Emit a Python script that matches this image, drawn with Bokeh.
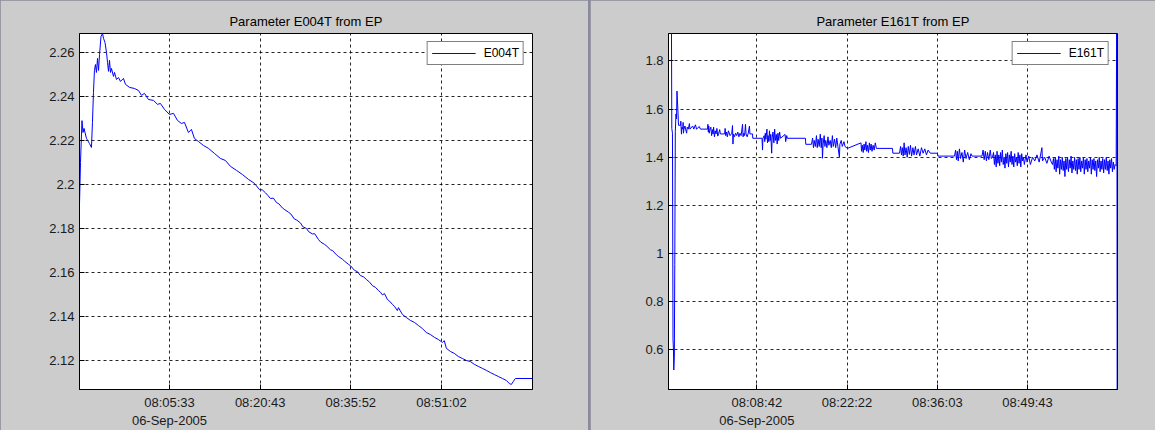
import pandas as pd
from bokeh.plotting import figure
from bokeh.models import Range1d, FixedTicker
from bokeh.layouts import row
from bokeh.embed import file_html
from bokeh.resources import INLINE

DATE = "2005-09-06"

# ---------------- E004T ----------------
E004T_START = "07:50:30"
E004T_XLIM = ("07:50:30", "09:06:15")
e004t_ylim = (2.1068, 2.2686)
e004t_xticks = ["08:05:33", "08:20:43", "08:35:52", "08:51:02"]
e004t_yticks = [2.12, 2.14, 2.16, 2.18, 2.2, 2.22, 2.24, 2.26]
e004t_ytick_labels = ["2.12", "2.14", "2.16", "2.18", "2.2", "2.22", "2.24", "2.26"]

e004t_elapsed_s = [
    0, 10, 25, 35, 45, 70, 100, 120, 130, 140,
    150, 160, 170, 181, 191, 201, 216, 231, 241, 256,
    271, 281, 291, 301, 311, 321, 341, 351, 371, 391,
    411, 441, 461, 502, 552, 592, 622, 652, 692, 742,
    782, 812, 853, 903, 943, 983, 1023, 1053, 1093, 1123,
    1153, 1194, 1244, 1294, 1354, 1414, 1464, 1515, 1575, 1635,
    1695, 1755, 1805, 1835, 1866, 1890, 1916, 1945, 1976, 2000,
    2036, 2060, 2096, 2120, 2156, 2180, 2217, 2240, 2277, 2300,
    2337, 2360, 2397, 2420, 2457, 2480, 2518, 2540, 2578, 2600,
    2638, 2660, 2698, 2720, 2758, 2790, 2818, 2850, 2879, 2910,
    2939, 2970, 2999, 3020, 3039, 3060, 3089, 3110, 3139, 3160,
    3189, 3200, 3240, 3280, 3320, 3360, 3400, 3440, 3480, 3520,
    3561, 3601, 3641, 3660, 3681, 3721, 3761, 3801, 3841, 3882,
    3922, 3962, 4002, 4042, 4082, 4122, 4162, 4203, 4243, 4283,
    4313, 4333, 4353, 4373, 4544,
]
e004t_values = [
    2.1909, 2.2100, 2.2290, 2.2236, 2.2255, 2.2209, 2.2186, 2.2168, 2.2282, 2.2418,
    2.2518, 2.2545, 2.2509, 2.2573, 2.2518, 2.2591, 2.2673, 2.2686, 2.2664, 2.2645,
    2.2600, 2.2555, 2.2514, 2.2564, 2.2509, 2.2527, 2.2491, 2.2509, 2.2477, 2.2486,
    2.2468, 2.2482, 2.2455, 2.2441, 2.2436, 2.2427, 2.2405, 2.2414, 2.2386, 2.2382,
    2.2364, 2.2368, 2.2341, 2.2318, 2.2323, 2.2291, 2.2277, 2.2282, 2.2236, 2.2250,
    2.2209, 2.2195, 2.2177, 2.2164, 2.2141, 2.2118, 2.2109, 2.2082, 2.2064, 2.2045,
    2.2023, 2.2005, 2.1977, 2.1975, 2.1962, 2.1950, 2.1936, 2.1938, 2.1918, 2.1912,
    2.1893, 2.1885, 2.1874, 2.1866, 2.1843, 2.1838, 2.1825, 2.1808, 2.1800, 2.1785,
    2.1775, 2.1776, 2.1750, 2.1738, 2.1728, 2.1720, 2.1703, 2.1699, 2.1680, 2.1672,
    2.1660, 2.1651, 2.1637, 2.1630, 2.1610, 2.1603, 2.1586, 2.1580, 2.1568, 2.1556,
    2.1540, 2.1532, 2.1518, 2.1510, 2.1498, 2.1504, 2.1477, 2.1470, 2.1455, 2.1446,
    2.1427, 2.1440, 2.1409, 2.1395, 2.1382, 2.1373, 2.1359, 2.1345, 2.1327, 2.1318,
    2.1305, 2.1295, 2.1282, 2.1290, 2.1255, 2.1241, 2.1232, 2.1218, 2.1209, 2.1200,
    2.1195, 2.1182, 2.1173, 2.1164, 2.1155, 2.1145, 2.1136, 2.1127, 2.1118, 2.1109,
    2.1095, 2.1091, 2.1105, 2.1118, 2.1118,
]

# ---------------- E161T ----------------
E161T_START = "07:55:19"
E161T_XLIM = ("07:55:19", "09:03:21")
e161t_ylim = (0.436, 1.914)
e161t_xticks = ["08:08:42", "08:22:22", "08:36:03", "08:49:43"]
e161t_yticks = [0.6, 0.8, 1.0, 1.2, 1.4, 1.6, 1.8]
e161t_ytick_labels = ["0.6", "0.8", "1", "1.2", "1.4", "1.6", "1.8"]

e161t_elapsed_s = [
    25, 30, 36, 41, 45, 48, 53, 57, 62, 68,
    73, 77, 85, 91, 110, 112, 115, 118, 121, 130,
    133, 136, 140, 150, 155, 165, 170, 180, 190, 195,
    220, 230, 245, 255, 280, 290, 355, 358, 362, 366,
    370, 378, 385, 392, 400, 405, 410, 418, 425, 432,
    440, 448, 455, 465, 472, 510, 515, 520, 528, 535,
    545, 560, 575, 582, 586, 590, 600, 610, 620, 630,
    640, 650, 660, 673, 678, 685, 692, 700, 705, 715,
    725, 736, 740, 764, 766, 850, 855, 858, 870, 875,
    880, 885, 895, 900, 905, 912, 918, 925, 930, 938,
    942, 950, 958, 965, 972, 980, 988, 995, 1002, 1010,
    1018, 1060, 1065, 1075, 1080, 1245, 1248, 1300, 1310, 1318,
    1325, 1335, 1345, 1352, 1360, 1370, 1380, 1388, 1395, 1400,
    1405, 1415, 1422, 1430, 1440, 1450, 1458, 1470, 1480, 1490,
    1498, 1510, 1520, 1530, 1540, 1554, 1558, 1570, 1580, 1595,
    1605, 1627, 1750, 1755, 1762, 1770, 1778, 1785, 1795, 1802,
    1810, 1818, 1826, 1834, 1842, 1850, 1860, 1870, 1880, 1890,
    2036, 2040, 2100, 2110, 2118, 2126, 2134, 2142, 2150, 2160,
    2170, 2180, 2190, 2200, 2210, 2222, 2232, 2245, 2255, 2270,
    2285, 2300, 2315, 2330, 2345, 2360, 2380, 2445, 2450, 2600,
    2610, 2618, 2626, 2634, 2645, 2655, 2668, 2680, 2692, 2705,
    2720, 2735, 2750, 2760, 2850, 2860, 2870, 2880, 2890, 2900,
    2912, 2925, 2935, 2945, 2955, 2963, 2971, 2979, 2987, 2995,
    3003, 3011, 3019, 3027, 3035, 3043, 3051, 3059, 3067, 3075,
    3083, 3091, 3099, 3107, 3115, 3123, 3131, 3139, 3147, 3155,
    3163, 3171, 3179, 3187, 3195, 3203, 3211, 3219, 3227, 3235,
    3250, 3260, 3275, 3290, 3310, 3330, 3350, 3370, 3395, 3400,
    3420, 3440, 3460, 3480, 3491, 3500, 3508, 3516, 3524, 3532,
    3540, 3548, 3556, 3564, 3572, 3580, 3588, 3596, 3604, 3612,
    3620, 3628, 3636, 3644, 3652, 3660, 3668, 3676, 3684, 3692,
    3700, 3708, 3716, 3724, 3732, 3740, 3748, 3756, 3764, 3772,
    3780, 3788, 3796, 3804, 3812, 3820, 3828, 3836, 3844, 3852,
    3860, 3868, 3876, 3884, 3892, 3900, 3908, 3916, 3924, 3932,
    3940, 3948, 3956, 3964, 3972, 3980, 3988, 3996, 4004, 4012,
    4020, 4028, 4036, 4044, 4052, 4060, 4070, 4076, 4079,
]
e161t_values = [
    2.200, 1.520, 1.500, 0.645, 0.600, 0.517, 0.570, 0.954, 1.508, 1.580,
    1.560, 1.675, 1.600, 1.533, 1.533, 1.550, 1.520, 1.496, 1.525, 1.517,
    1.545, 1.500, 1.517, 1.530, 1.517, 1.500, 1.525, 1.517, 1.540, 1.517,
    1.530, 1.517, 1.535, 1.517, 1.528, 1.517, 1.517, 1.537, 1.505, 1.530,
    1.500, 1.517, 1.525, 1.490, 1.515, 1.497, 1.525, 1.485, 1.510, 1.497,
    1.520, 1.488, 1.497, 1.515, 1.497, 1.497, 1.520, 1.490, 1.505, 1.485,
    1.510, 1.490, 1.500, 1.532, 1.455, 1.497, 1.485, 1.500, 1.490, 1.505,
    1.485, 1.500, 1.490, 1.537, 1.485, 1.500, 1.490, 1.537, 1.497, 1.485,
    1.500, 1.530, 1.497, 1.497, 1.479, 1.479, 1.430, 1.479, 1.490, 1.465,
    1.500, 1.475, 1.517, 1.460, 1.490, 1.465, 1.510, 1.470, 1.495, 1.417,
    1.480, 1.505, 1.460, 1.517, 1.470, 1.495, 1.455, 1.500, 1.470, 1.505,
    1.479, 1.495, 1.465, 1.490, 1.479, 1.479, 1.454, 1.454, 1.480, 1.440,
    1.470, 1.445, 1.490, 1.440, 1.475, 1.445, 1.496, 1.440, 1.480, 1.396,
    1.450, 1.490, 1.445, 1.470, 1.440, 1.485, 1.450, 1.470, 1.440, 1.490,
    1.445, 1.475, 1.440, 1.480, 1.445, 1.400, 1.454, 1.470, 1.445, 1.465,
    1.445, 1.437, 1.460, 1.425, 1.450, 1.420, 1.455, 1.430, 1.465, 1.425,
    1.450, 1.420, 1.460, 1.430, 1.455, 1.425, 1.450, 1.430, 1.460, 1.437,
    1.437, 1.417, 1.417, 1.445, 1.410, 1.440, 1.405, 1.460, 1.410, 1.440,
    1.400, 1.445, 1.412, 1.450, 1.405, 1.440, 1.410, 1.445, 1.410, 1.435,
    1.405, 1.440, 1.417, 1.435, 1.410, 1.430, 1.417, 1.417, 1.405, 1.405,
    1.430, 1.390, 1.425, 1.385, 1.435, 1.395, 1.420, 1.380, 1.430, 1.395,
    1.420, 1.390, 1.415, 1.405, 1.405, 1.430, 1.390, 1.425, 1.385, 1.420,
    1.390, 1.430, 1.395, 1.400, 1.420, 1.370, 1.410, 1.360, 1.425, 1.375,
    1.410, 1.365, 1.420, 1.380, 1.430, 1.370, 1.400, 1.355, 1.415, 1.375,
    1.420, 1.360, 1.410, 1.380, 1.425, 1.370, 1.405, 1.360, 1.415, 1.380,
    1.400, 1.365, 1.420, 1.375, 1.410, 1.360, 1.415, 1.385, 1.400, 1.370,
    1.410, 1.380, 1.405, 1.370, 1.400, 1.385, 1.410, 1.380, 1.440, 1.385,
    1.400, 1.375, 1.405, 1.380, 1.370, 1.395, 1.350, 1.400, 1.340, 1.390,
    1.355, 1.405, 1.330, 1.390, 1.350, 1.400, 1.345, 1.385, 1.320, 1.395,
    1.350, 1.400, 1.340, 1.390, 1.355, 1.405, 1.335, 1.385, 1.350, 1.400,
    1.345, 1.390, 1.330, 1.395, 1.350, 1.400, 1.340, 1.385, 1.355, 1.400,
    1.330, 1.390, 1.350, 1.395, 1.340, 1.385, 1.355, 1.400, 1.330, 1.390,
    1.350, 1.395, 1.345, 1.385, 1.320, 1.390, 1.355, 1.400, 1.340, 1.385,
    1.350, 1.395, 1.335, 1.390, 1.350, 1.400, 1.345, 1.385, 1.330, 1.390,
    1.355, 1.395, 1.340, 1.380, 1.350, 1.370, 1.365, 2.200, 0.300,
]

FONT = "Liberation Sans"
PANEL_BG = "#cccccc"


def ms(clock):
    return pd.Timestamp(f"{DATE} {clock}").value // 10**6


def make_panel(name, start, elapsed, values, xlim, xticks, yticks, ylabels, ylim,
               width, border_left, border_right):
    t0 = pd.Timestamp(f"{DATE} {start}")
    x = t0 + pd.to_timedelta(elapsed, unit="s")
    p = figure(width=width, height=430, x_axis_type="datetime",
               x_range=Range1d(ms(xlim[0]), ms(xlim[1])),
               y_range=Range1d(*ylim),
               output_backend="svg", toolbar_location=None,
               title=f"Parameter {name} from EP",
               min_border_left=border_left, min_border_right=border_right,
               min_border_top=33, min_border_bottom=40)
    p.background_fill_color = "white"
    p.border_fill_color = PANEL_BG
    p.outline_line_color = "black"
    p.outline_line_width = 1

    p.title.align = "center"
    p.title.text_font = FONT
    p.title.text_font_size = "13px"
    p.title.text_font_style = "normal"
    p.title.text_color = "#000000"
    p.title.standoff = 10

    xt = [ms(c) for c in xticks]
    date_str = pd.Timestamp(DATE).strftime("%d-%b-%Y")
    xover = {}
    for i, (v, c) in enumerate(zip(xt, xticks)):
        xover[v] = c + ("\n" + date_str if i == 0 else "")
    p.xaxis.ticker = FixedTicker(ticks=xt)
    p.xaxis.major_label_overrides = xover
    p.yaxis.ticker = FixedTicker(ticks=yticks)
    p.yaxis.major_label_overrides = {v: s for v, s in zip(yticks, ylabels)}

    for ax in list(p.xaxis) + list(p.yaxis):
        ax.major_tick_in = 5
        ax.major_tick_out = 0
        ax.minor_tick_in = 0
        ax.minor_tick_out = 0
        ax.axis_line_color = "black"
        ax.major_tick_line_color = "black"
        ax.major_label_text_font = FONT
        ax.major_label_text_font_size = "13px"
        ax.major_label_text_color = "#1a1a1a"
        ax.major_label_standoff = 5

    p.grid.grid_line_color = "black"
    p.grid.grid_line_alpha = 0.85
    p.grid.grid_line_dash = "3 3"
    p.grid.grid_line_width = 1

    p.line(x, values, color="#0000ff", line_width=1, legend_label=name)

    lg = p.legend[0]
    lg.location = "top_right"
    lg.margin = 8
    lg.padding = 4
    lg.spacing = 0
    lg.glyph_width = 44
    lg.glyph_height = 14
    lg.label_height = 14
    lg.label_standoff = 8
    lg.border_line_color = "black"
    lg.border_line_width = 1
    lg.background_fill_color = "white"
    lg.background_fill_alpha = 1
    lg.label_text_font = FONT
    lg.label_text_font_size = "12px"
    lg.label_text_color = "#000000"
    return p


p1 = make_panel("E004T", E004T_START, e004t_elapsed_s, e004t_values, E004T_XLIM,
                e004t_xticks, e004t_yticks, e004t_ytick_labels, e004t_ylim,
                width=588, border_left=79, border_right=56)
p2 = make_panel("E161T", E161T_START, e161t_elapsed_s, e161t_values, E161T_XLIM,
                e161t_xticks, e161t_yticks, e161t_ytick_labels, e161t_ylim,
                width=565, border_left=78, border_right=38)

layout = row(p1, p2, spacing=2, styles={"background-color": "#8a8a9a"})

with open("out.html", "w") as f:
    f.write(file_html(layout, INLINE))
